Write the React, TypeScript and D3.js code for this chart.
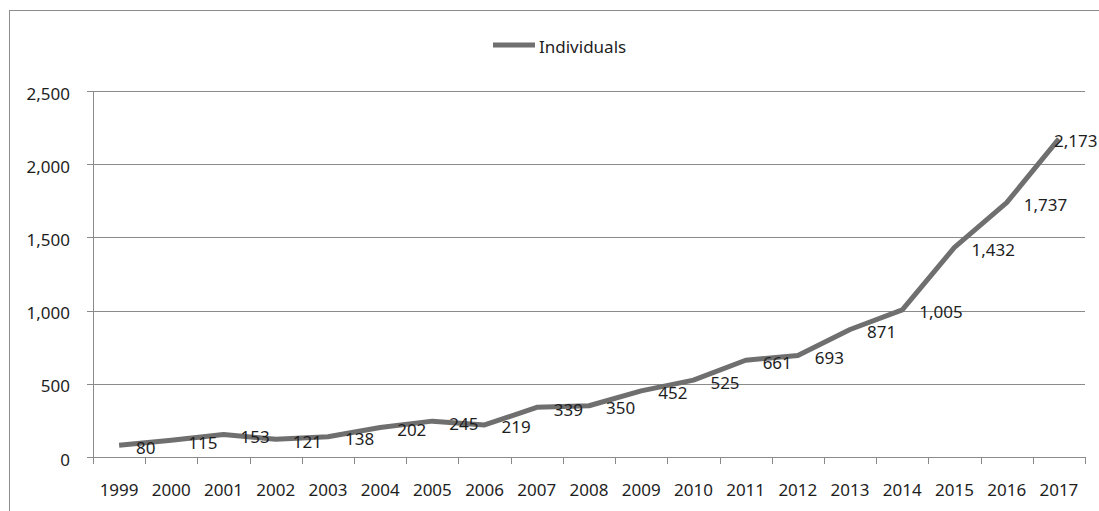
import React from "react";
import * as d3 from "d3";

const years = ["1999","2000","2001","2002","2003","2004","2005","2006","2007","2008","2009","2010","2011","2012","2013","2014","2015","2016","2017"];
const individuals = [80,115,153,121,138,202,245,219,339,350,452,525,661,693,871,1005,1432,1737,2173];
const yTicks = [0,500,1000,1500,2000,2500];
const seriesName = "Individuals";

const W = 1099, H = 511;
const FONT = "'Noto Sans', 'Open Sans', sans-serif";
const FS = 17;

export default function App() {
  const x = d3.scaleBand<string>().domain(years).range([93, 1085]).padding(0);
  const y = d3.scaleLinear().domain([0, 2500]).range([457, 91]);
  const fmt = d3.format(",");
  const pts = years.map((yr, i) => [x(yr)! + x.bandwidth() / 2, y(individuals[i])] as [number, number]);
  const line = d3.line()(pts) || "";
  const grid = "#8a8a8a";
  const tickXs = years.map((yr) => x(yr)!).concat([x.range()[1]]);

  return (
    <div style={{ position: "fixed", left: 0, top: 0 }}>
      <svg width={W} height={H} style={{ display: "block", background: "#fff" }}>
        <rect x={9.5} y={10.5} width={1200} height={700} fill="#fff" stroke="#8c8c8c" strokeWidth={1} />
        {yTicks.map((t) => (
          <g key={t}>
            <line x1={87} x2={1085} y1={Math.round(y(t)) + 0.5} y2={Math.round(y(t)) + 0.5} stroke={grid} strokeWidth={1} />
            <text x={70} y={y(t) + 2} textAnchor="end" dominantBaseline="central" fontFamily={FONT} fontSize={FS} fill="#1e1e1e">{fmt(t)}</text>
          </g>
        ))}
        <line x1={93.5} x2={93.5} y1={91} y2={457} stroke={grid} strokeWidth={1} />
        {tickXs.map((tx, i) => (
          <line key={i} x1={Math.round(tx) + 0.5} x2={Math.round(tx) + 0.5} y1={457} y2={464} stroke={grid} strokeWidth={1} />
        ))}
        {years.map((yr) => (
          <text key={yr} x={x(yr)! + x.bandwidth() / 2} y={489} textAnchor="middle" dominantBaseline="central" fontFamily={FONT} fontSize={FS} fill="#1e1e1e">{yr}</text>
        ))}
        <path d={line} fill="none" stroke="#6f6f6f" strokeWidth={5} strokeLinejoin="round" strokeLinecap="butt" />
        {pts.map(([px, py], i) => (
          <text key={i} x={Math.min(px + 17, 1054)} y={py + 2} dominantBaseline="central" fontFamily={FONT} fontSize={FS} fill="#1e1e1e">{fmt(individuals[i])}</text>
        ))}
        <line x1={493} x2={535} y1={45} y2={45} stroke="#6f6f6f" strokeWidth={5} />
        <text x={539} y={46} dominantBaseline="central" fontFamily={FONT} fontSize={FS} fill="#1e1e1e">{seriesName}</text>
      </svg>
    </div>
  );
}
